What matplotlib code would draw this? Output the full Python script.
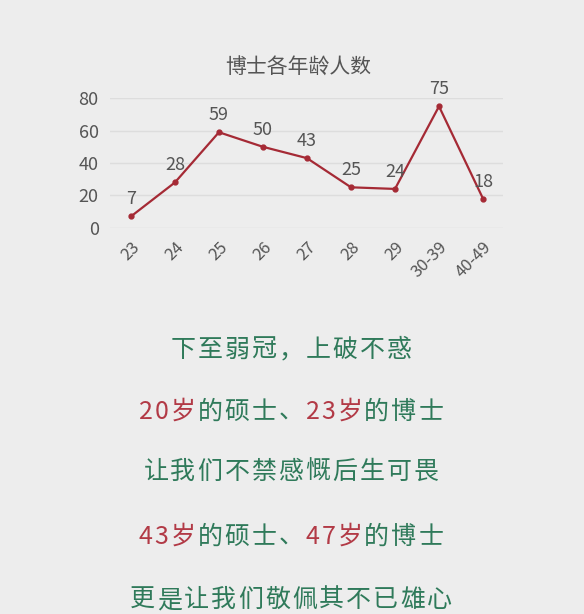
import matplotlib.pyplot as plt

plt.rcParams['font.family'] = ['Noto Sans CJK SC', 'DejaVu Sans']

ages = ['23', '24', '25', '26', '27', '28', '29', '30-39', '40-49']
counts = [7, 28, 59, 50, 43, 25, 24, 75, 18]
yticks = [0, 20, 40, 60, 80]

bg = '#ededed'
green = '#2f7a5a'
red = '#b23a46'

fig = plt.figure(figsize=(5.84, 6.14), dpi=100, facecolor=bg)
ax = fig.add_axes([0.188, 0.629, 0.673, 0.211], facecolor=bg)

x = list(range(len(ages)))
ax.plot(x, counts, color='#a52a35', lw=1.6, marker='o', ms=3.5)
for xi, v in zip(x, counts):
    ax.text(xi, v + 5, str(v), ha='center', va='bottom', fontsize=13, color='#555555')

ax.set_xlim(-0.48, 8.45)
ax.set_ylim(0, 80)
ax.set_yticks(yticks)
ax.set_yticklabels([str(t) for t in yticks], fontsize=13, color='#555555')
ax.set_xticks(x)
ax.set_xticklabels(ages, rotation=45, ha='right', rotation_mode='anchor', fontsize=12, color='#555555')
ax.grid(axis='y', color='#dddddd', lw=1)
ax.set_axisbelow(True)
ax.tick_params(length=0, pad=8)
for s in ax.spines.values():
    s.set_visible(False)

fig.text(0.51, 0.889, '博士各年龄人数', ha='center', va='center', fontsize=15, color='#555555')

# lines of text below the chart: list of (segment, colour) per line
lines = [
    [('下至弱冠，上破不惑', green)],
    [('20岁', red), ('的硕士、', green), ('23岁', red), ('的博士', green)],
    [('让我们不禁感慨后生可畏', green)],
    [('43岁', red), ('的硕士、', green), ('47岁', red), ('的博士', green)],
    [('更是让我们敬佩其不已雄心', green)],
]
ys = [350, 412, 472, 537, 600]

fig.canvas.draw()
r = fig.canvas.get_renderer()
for segs, yp in zip(lines, ys):
    yf = 1 - yp / 614
    chars = []
    for s, c in segs:
        for ch in s:
            t = fig.text(0, yf, ch, ha='left', va='center', fontsize=18, color=c)
            chars.append(t)
    widths = [t.get_window_extent(r).width + 2 for t in chars]
    xpix = (584 - sum(widths)) / 2
    for t, w in zip(chars, widths):
        t.set_x(xpix / 584)
        xpix += w

fig.savefig('out.png', dpi=100, facecolor=bg)
